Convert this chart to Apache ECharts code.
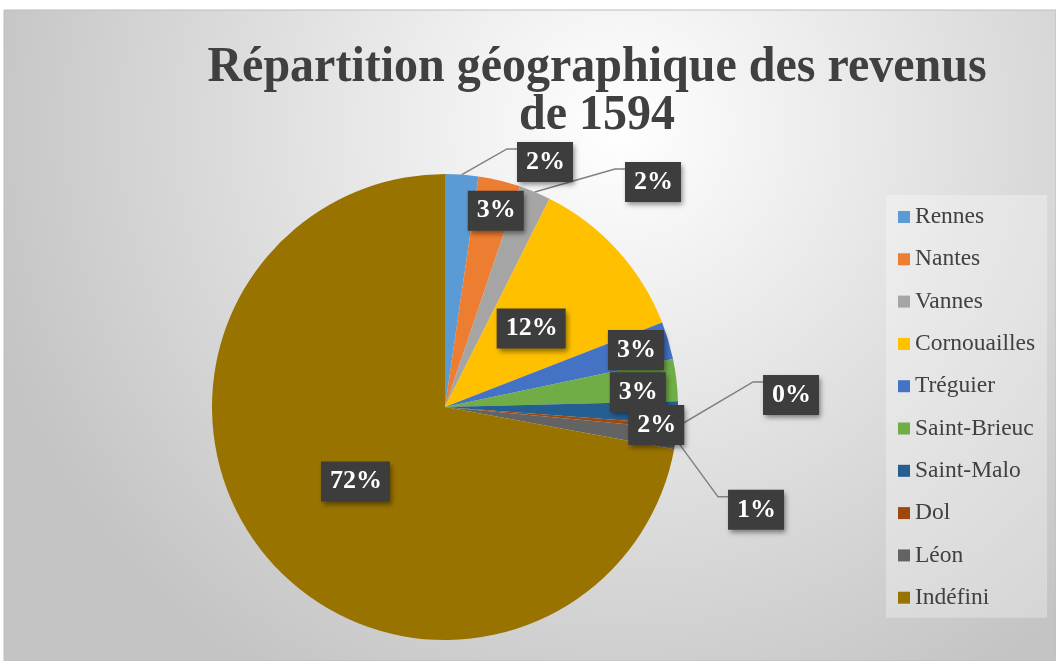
<!DOCTYPE html>
<html>
<head>
<meta charset="utf-8">
<script src="https://cdn.jsdelivr.net/npm/echarts@6/dist/echarts.min.js"></script>
<style>
html, body { margin: 0; padding: 0; background: #fff; }
#chart { width: 1056px; height: 661px; }
</style>
</head>
<body>
<div id="chart"></div>
<script>
// data (shares in %)
const categories = ['Rennes', 'Nantes', 'Vannes', 'Cornouailles', 'Tréguier',
    'Saint-Brieuc', 'Saint-Malo', 'Dol', 'Léon', 'Indéfini'];
const values = [2.3, 2.9, 2.2, 11.7, 2.6, 2.9, 1.6, 0.3, 1.4, 72.1];

const colors = ['#5B9BD5', '#ED7D31', '#A5A5A5', '#FFC000', '#4472C4',
    '#70AD47', '#255E91', '#9E480E', '#636363', '#997300'];

// where each label box sits: r = fraction of radius, a = angle (deg, clockwise from top)
const labelPlace = [
    { r: 1.136, a: 22.2, line: true },
    { r: 0.87, a: 14.5 },
    { r: 1.315, a: 42.75, line: true },
    { r: 0.5 },
    { r: 0.855, a: 73.4 },
    { r: 0.83, a: 85.6 },
    { r: 0.91, a: 94.9 },
    { r: 1.486, a: 88.0, line: true },
    { r: 1.406, a: 108.3, line: true },
    { r: 0.5 }
];

const CX = 445, CY = 407, R = 233;
const total = values.reduce((a, b) => a + b, 0);

function midAngle(i) {
    let s = 0;
    for (let k = 0; k < i; k++) s += values[k];
    return (s + values[i] / 2) / total * 360;
}
function polar(a, r) {
    const t = a * Math.PI / 180;
    return [CX + r * Math.sin(t), CY - r * Math.cos(t)];
}

var myChart = echarts.init(document.getElementById('chart'));

myChart.setOption({
    color: colors,
    animation: false,
    graphic: [
        {
            type: 'rect',
            z: -10,
            silent: true,
            shape: { x: 4, y: 10, width: 1052, height: 651 },
            style: {
                fill: new echarts.graphic.RadialGradient(0.585, 0.18, 1.0, [
                    { offset: 0, color: '#ffffff' },
                    { offset: 1, color: '#c4c4c4' }
                ]),
                stroke: '#bdbdbd',
                lineWidth: 1
            }
        },
        {
            type: 'text',
            x: 597,
            y: 44,
            scaleY: 1.06,
            silent: true,
            style: {
                text: 'Répartition géographique des revenus\nde 1594',
                fontFamily: 'Liberation Serif',
                fontWeight: 'bold',
                fontSize: 48,
                lineHeight: 45,
                fill: '#404040',
                textAlign: 'center',
                textVerticalAlign: 'top'
            }
        }
    ],
    legend: {
        orient: 'vertical',
        left: 886,
        top: 195,
        padding: [10, 12, 8, 12],
        backgroundColor: 'rgba(255,255,255,0.3)',
        icon: 'rect',
        itemWidth: 12,
        itemHeight: 12,
        itemGap: 18.3,
        textStyle: {
            fontFamily: 'Liberation Serif',
            fontSize: 23.5,
            lineHeight: 23,
            color: '#404040'
        },
        data: categories
    },
    series: [
        {
            type: 'pie',
            center: [CX, CY],
            radius: R,
            startAngle: 90,
            clockwise: true,
            avoidLabelOverlap: false,
            emphasis: { disabled: true },
            label: {
                show: true,
                position: 'outside',
                formatter: p => Math.round(p.percent) + '%',
                fontFamily: 'Liberation Serif',
                fontWeight: 'bold',
                fontSize: 26,
                lineHeight: 28,
                color: '#fff',
                backgroundColor: '#3d3d3d',
                padding: [6, 8, 6, 9],
                shadowBlur: 5,
                shadowOffsetX: 2,
                shadowOffsetY: 3,
                shadowColor: 'rgba(0,0,0,0.45)'
            },
            labelLine: {
                show: true,
                lineStyle: { color: '#808080', width: 1.5 }
            },
            labelLayout: function (p) {
                const i = p.dataIndex, place = labelPlace[i];
                const a = place.a != null ? place.a : midAngle(i);
                const c = polar(a, place.r * R);
                const out = { x: c[0], y: c[1], align: 'center', verticalAlign: 'middle' };
                if (place.line) {
                    const left = c[0] - p.labelRect.width / 2;
                    const top = c[1] - p.labelRect.height / 2;
                    out.labelLinePoints = [polar(midAngle(i), R), [left - 10, top + 7], [left, top + 7]];
                }
                return out;
            },
            data: categories.map((name, i) => ({
                name: name,
                value: values[i],
                labelLine: { show: !!labelPlace[i].line }
            }))
        }
    ]
});
</script>
</body>
</html>
